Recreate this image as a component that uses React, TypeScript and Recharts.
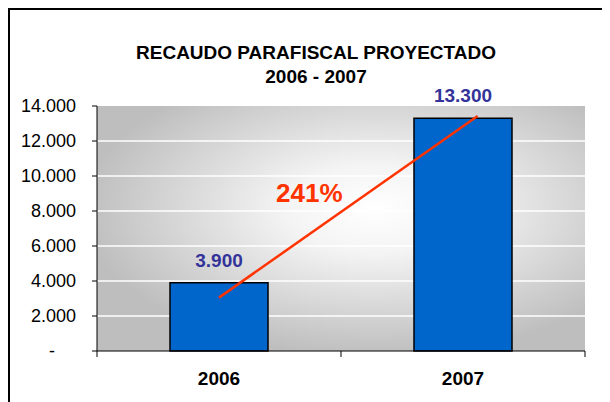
import {
  ComposedChart,
  Bar,
  XAxis,
  YAxis,
  CartesianGrid,
  ReferenceLine,
  ReferenceDot,
  LabelList,
} from "recharts";

const years = ["2006", "2007"];
const recaudo = [3900, 13300];
const yTicks = [0, 2000, 4000, 6000, 8000, 10000, 12000, 14000];
const gridValues = [2000, 4000, 6000, 8000, 10000, 12000];
// x axis is numeric: category i spans [i, i+1]; year labels sit at the middle
const xTicks = [0, 0.5, 1, 1.5, 2];
const trendFrom = { x: 0.5, y: 3050 };
const trendTo = { x: 1.56, y: 13430 };
const growthLabel = "241%";
const growthAt = { x: 0.87, y: 9070 };

const data = years.map((year, i) => ({ year, pos: i + 0.5, value: recaudo[i] }));

const fmt = (v: number) => String(v).replace(/\B(?=(\d{3})+(?!\d))/g, ".");

function YTick({ x, y, payload }: any) {
  const zero = payload.value === 0;
  return (
    <text
      x={zero ? x - 24 : x}
      y={y}
      dy="0.355em"
      textAnchor={zero ? "middle" : "end"}
      fill="#000"
      fontSize={18}
    >
      {zero ? "-" : fmt(payload.value)}
    </text>
  );
}

function XTick({ x, y, payload }: any) {
  const v = payload.value;
  if (Number.isInteger(v)) {
    return <line x1={x} x2={x} y1={y} y2={y + 6} stroke="#000" />;
  }
  return (
    <text x={x} y={y + 34} textAnchor="middle" fill="#000" fontSize={19} fontWeight="bold">
      {years[Math.floor(v)]}
    </text>
  );
}

export default function App() {
  return (
    <div
      style={{
        position: "relative",
        width: 602,
        height: 394,
        boxSizing: "border-box",
        borderLeft: "2px solid #000",
        borderTop: "2px solid #000",
        overflow: "hidden",
        background: "#fff",
        fontFamily: "'Liberation Sans', Arial, sans-serif",
      }}
    >
      <div
        style={{
          position: "absolute",
          left: 0,
          top: 31,
          width: 612,
          textAlign: "center",
          fontSize: 19,
          fontWeight: "bold",
          lineHeight: "24px",
          color: "#000",
        }}
      >
        <div>RECAUDO PARAFISCAL PROYECTADO</div>
        <div>2006 - 2007</div>
      </div>
      <ComposedChart
        width={600}
        height={392}
        data={data}
        margin={{ top: 96, right: 25, bottom: 6, left: 0 }}
      >
        <defs>
          <radialGradient id="plotBg" cx="0.57" cy="0.42" r="0.6">
            <stop offset="0" stopColor="#ffffff" />
            <stop offset="0.3" stopColor="#f4f4f4" />
            <stop offset="1" stopColor="#bebebe" />
          </radialGradient>
        </defs>
        <CartesianGrid
          vertical={false}
          horizontalValues={gridValues}
          stroke="#fff"
          strokeWidth={1.5}
          fill="url(#plotBg)"
          fillOpacity={1}
        />
        <XAxis
          dataKey="pos"
          type="number"
          domain={[0, 2]}
          ticks={xTicks}
          interval={0}
          height={45}
          tickSize={0}
          tickMargin={0}
          tickLine={false}
          axisLine={{ stroke: "#000" }}
          tick={<XTick />}
        />
        <YAxis
          width={87}
          domain={[0, 14000]}
          ticks={yTicks}
          interval={0}
          tickSize={5}
          tickMargin={16}
          axisLine={{ stroke: "#000" }}
          tickLine={{ stroke: "#000" }}
          tick={<YTick />}
        />
        <Bar
          dataKey="value"
          barSize={98}
          fill="#0066cc"
          stroke="#000"
          strokeWidth={1.5}
          isAnimationActive={false}
        >
          <LabelList
            dataKey="value"
            position="top"
            offset={16}
            formatter={(v: any) => fmt(Number(v))}
            fill="#333399"
            fontSize={19}
            fontWeight="bold"
          />
        </Bar>
        <ReferenceLine segment={[trendFrom, trendTo]} stroke="#ff3300" strokeWidth={2.5} />
        <ReferenceDot
          x={growthAt.x}
          y={growthAt.y}
          r={0}
          fill="none"
          stroke="none"
          label={{
            value: growthLabel,
            position: "center",
            fill: "#ff3300",
            fontSize: 26,
            fontWeight: "bold",
          }}
        />
      </ComposedChart>
    </div>
  );
}
